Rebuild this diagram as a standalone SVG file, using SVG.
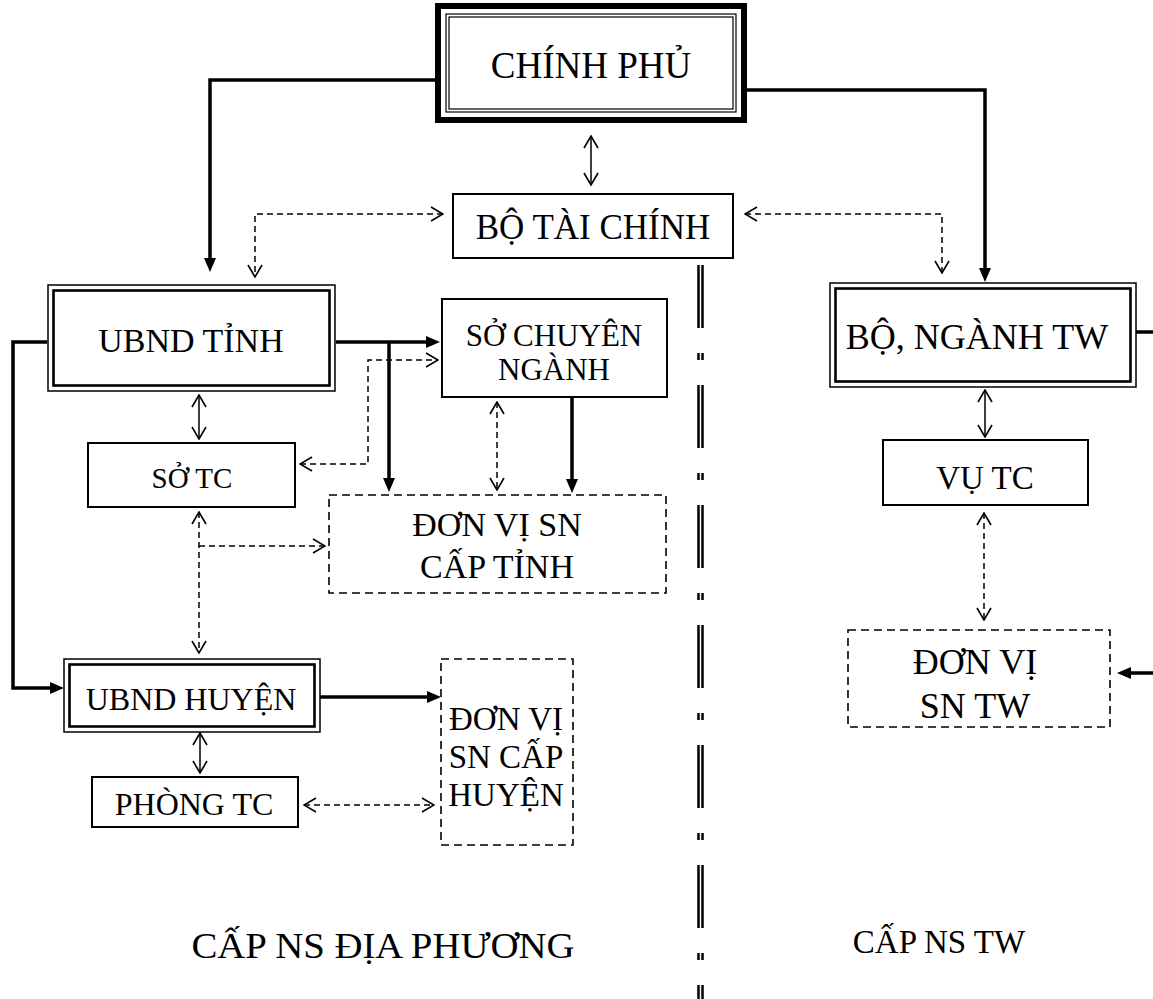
<svg xmlns="http://www.w3.org/2000/svg" width="1153" height="999" viewBox="0 0 1153 999">
<style>
text{font-family:"Liberation Serif","Times New Roman",serif;fill:#000;text-anchor:middle}
.box{fill:#fff;stroke:#000;stroke-width:2}
.dbox{fill:#fff;stroke:#000;stroke-width:1.6;stroke-dasharray:8 5}
.thin{fill:none;stroke:#000;stroke-width:1.5}
.thick{fill:none;stroke:#000;stroke-width:2.6}
.cthick{fill:none;stroke:#000;stroke-width:3.5;marker-end:url(#fa)}
.csolid2{fill:none;stroke:#000;stroke-width:1.5;marker-start:url(#va);marker-end:url(#va)}
.cdash2{fill:none;stroke:#000;stroke-width:1.5;stroke-dasharray:6 4;marker-start:url(#va);marker-end:url(#va)}
.cdash1{fill:none;stroke:#000;stroke-width:1.5;stroke-dasharray:6 4;marker-end:url(#va)}
.div{fill:none;stroke:#000;stroke-width:2.5;stroke-dasharray:63 25 7 25}
</style>
<defs>
<marker id="fa" viewBox="0 0 14 12" refX="8" refY="6" markerWidth="14" markerHeight="12" markerUnits="userSpaceOnUse" orient="auto">
<path d="M0,0 L14,6 L0,12 Z" fill="#000" stroke="none"/>
</marker>
<marker id="va" viewBox="0 0 14 16" refX="13" refY="8" markerWidth="14" markerHeight="16" markerUnits="userSpaceOnUse" orient="auto-start-reverse">
<path d="M1,1 L13,8 L1,15" fill="none" stroke="#000" stroke-width="1.6"/>
</marker>
</defs>

<g id="divider">
<line class="div" x1="698.5" y1="265" x2="698.5" y2="999"/>
<line class="div" x1="702.5" y1="265" x2="702.5" y2="999"/>
</g>

<g id="connectors">
<path class="cthick" d="M435,80 H210 V266"/>
<path class="cthick" d="M747,90 H985 V276"/>
<path class="csolid2" d="M591,136 V185"/>
<path class="cdash2" d="M443,214 H255 V277"/>
<path class="cdash2" d="M745,214 H942 V273"/>
<path class="cthick" d="M47,342 H13 V688 H58"/>
<path class="cthick" d="M336,342 H434"/>
<path class="cthick" d="M389,342 V486"/>
<path class="cdash2" d="M300,464 H368 V360 H438"/>
<path class="csolid2" d="M199,395 V439"/>
<path class="cdash2" d="M497,402 V490"/>
<path class="cthick" d="M572,397 V487"/>
<path class="cdash2" d="M199,512 V653"/>
<path class="cdash1" d="M199,546 H325"/>
<path class="cthick" d="M320,697 H435"/>
<path class="csolid2" d="M200,733 V773"/>
<path class="cdash2" d="M304,805 H434"/>
<path class="csolid2" d="M985,390 V437"/>
<path class="cdash2" d="M984,513 V620"/>
<path class="cthick" d="M1136,332 H1170 V673 H1123"/>
</g>

<g id="chinh-phu">
<rect x="438" y="6" width="306" height="114" fill="#fff" stroke="#000" stroke-width="6"/>
<rect class="thin" x="446" y="14" width="290" height="98" style="stroke-width:1.2"/>
<rect class="thin" x="449" y="17" width="284" height="92" style="stroke-width:1.2"/>
<text x="591" y="78" font-size="37">CHÍNH PHỦ</text>
</g>

<g id="bo-tai-chinh">
<rect class="box" x="453" y="194" width="280" height="64"/>
<text x="593" y="239" font-size="35">BỘ TÀI CHÍNH</text>
</g>

<g id="ubnd-tinh">
<rect x="48" y="285" width="287" height="106" fill="#fff" stroke="#000" stroke-width="1.5"/>
<rect class="thick" x="53.5" y="290.5" width="276" height="95"/>
<text x="191" y="352" font-size="34">UBND TỈNH</text>
</g>

<g id="so-chuyen-nganh">
<rect class="box" x="442" y="299" width="225" height="98"/>
<text x="554" y="346" font-size="31">SỞ CHUYÊN</text>
<text x="554" y="380" font-size="31">NGÀNH</text>
</g>

<g id="so-tc">
<rect class="box" x="88" y="443" width="207" height="64"/>
<text x="192" y="488" font-size="29">SỞ TC</text>
</g>

<g id="don-vi-sn-tinh">
<rect class="dbox" x="329" y="495" width="337" height="98"/>
<text x="497" y="536" font-size="34">ĐƠN VỊ SN</text>
<text x="497" y="578" font-size="34">CẤP TỈNH</text>
</g>

<g id="ubnd-huyen">
<rect x="64" y="659" width="256" height="73" fill="#fff" stroke="#000" stroke-width="1.5"/>
<rect class="thick" x="69.5" y="664.5" width="245" height="62"/>
<text x="191" y="710" font-size="32">UBND HUYỆN</text>
</g>

<g id="phong-tc">
<rect class="box" x="92" y="777" width="206" height="50"/>
<text x="194" y="815" font-size="32">PHÒNG TC</text>
</g>

<g id="don-vi-sn-huyen">
<rect class="dbox" x="441" y="659" width="132" height="186"/>
<text x="506" y="730" font-size="33">ĐƠN VỊ</text>
<text x="506" y="768" font-size="33">SN CẤP</text>
<text x="506" y="806" font-size="33">HUYỆN</text>
</g>

<g id="bo-nganh-tw">
<rect x="830" y="283" width="306" height="104" fill="#fff" stroke="#000" stroke-width="1.5"/>
<rect class="thick" x="835.5" y="288.5" width="295" height="93"/>
<text x="977" y="349" font-size="36">BỘ, NGÀNH TW</text>
</g>

<g id="vu-tc">
<rect class="box" x="883" y="440" width="205" height="65"/>
<text x="985" y="489" font-size="33">VỤ TC</text>
</g>

<g id="don-vi-sn-tw">
<rect class="dbox" x="848" y="630" width="262" height="97"/>
<text x="975" y="674" font-size="36">ĐƠN VỊ</text>
<text x="975" y="718" font-size="36">SN TW</text>
</g>

<g id="labels">
<text x="383" y="958" font-size="36" textLength="383" lengthAdjust="spacingAndGlyphs">CẤP NS ĐỊA PHƯƠNG</text>
<text x="939" y="953" font-size="33">CẤP NS TW</text>
</g>
</svg>
